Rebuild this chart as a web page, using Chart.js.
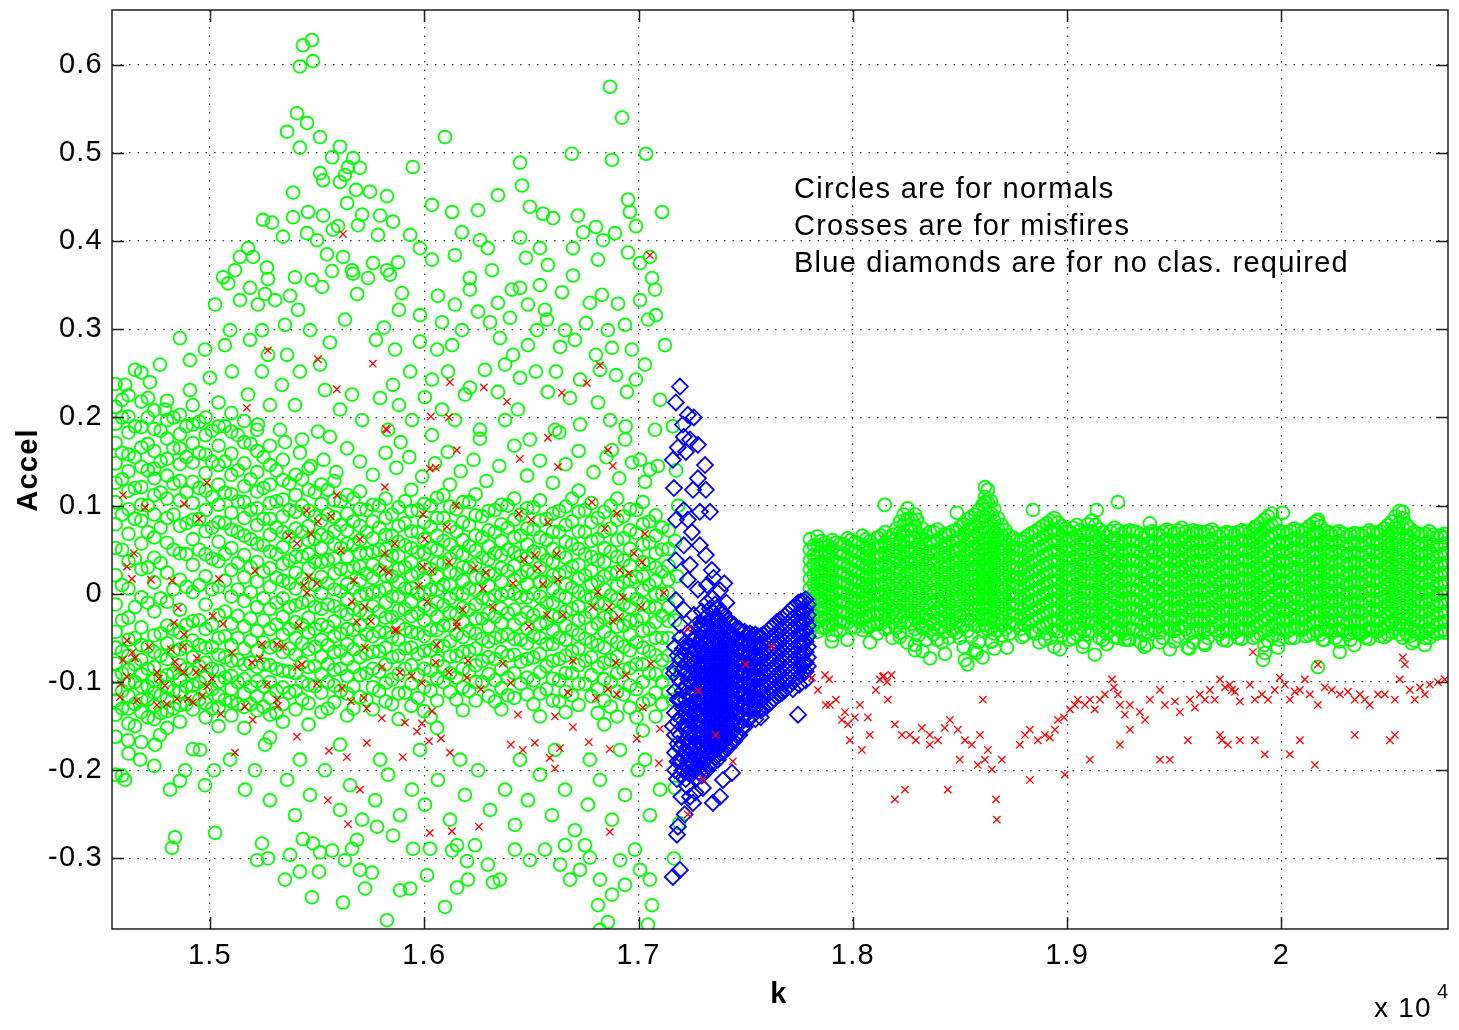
<!DOCTYPE html>
<html>
<head>
<meta charset="utf-8">
<script src="https://cdn.jsdelivr.net/npm/chart.js@4/dist/chart.umd.min.js"></script>
<style>
  html, body { margin: 0; padding: 0; background: #fff; }
  #wrap { width: 1459px; height: 1030px; }
</style>
</head>
<body>
<div id="wrap"><canvas id="accelChart" width="1459" height="1030"></canvas></div>
<script>
// --- Data ---------------------------------------------------------------------------------------
// Column tables: [k, accel, accel, ...]  (one k with several accel readings)
// Pair lists:    [k, accel]

const kTicks = [15000, 16000, 17000, 18000, 19000, 20000]
const accelTicks = [-0.3, -0.2, -0.1, 0, 0.1, 0.2, 0.3, 0.4, 0.5, 0.6]

// normals, dense part before the transition
const normalColsEarly = [
  [14560, .238,.212,.193,.171,.148,.126,.104,.079,.052,.021,-.012,-.043,-.061,-.079,-.094,-.108,-.121,-.137,-.162,-.205],
  [14620, .225,.201,.183,.158,.139,.117,.096,.068,.037,.006,-.027,-.052,-.07,-.086,-.101,-.116,-.13,-.147,-.181],
  [14680, .251,.218,.189,.166,.144,.121,.101,.083,.057,.028,-.004,-.038,-.058,-.075,-.091,-.105,-.12,-.134,-.168],
  [14740, .208,.187,.162,.142,.131,.112,.09,.064,.041,.013,-.02,-.047,-.066,-.083,-.098,-.112,-.127,-.142,-.195],
  [14800, .219,.197,.176,.153,.134,.108,.086,.058,.024,-.009,-.036,-.056,-.074,-.092,-.106,-.119,-.133,-.152],
  [14860, .203,.181,.165,.147,.128,.106,.077,.046,.016,-.018,-.044,-.063,-.081,-.097,-.111,-.126,-.145,-.212],
  [14920, .214,.192,.171,.149,.127,.103,.084,.062,.033,.002,-.031,-.053,-.072,-.089,-.104,-.117,-.131,-.176],
  [14980, .2,.18,.158,.137,.117,.095,.071,.045,.02,-.012,-.04,-.061,-.078,-.095,-.109,-.124,-.14],
  [15040, .217,.19,.168,.146,.124,.101,.081,.059,.037,.008,-.024,-.05,-.069,-.087,-.1,-.115,-.129,-.15],
  [15100, .205,.184,.159,.135,.113,.092,.073,.052,.027,-.003,-.034,-.058,-.076,-.093,-.108,-.122,-.138],
  [15160, .196,.172,.148,.122,.104,.086,.066,.044,.019,-.008,-.037,-.062,-.08,-.097,-.113,-.128,-.152],
  [15220, .186,.162,.138,.116,.097,.078,.057,.036,.014,-.015,-.042,-.064,-.083,-.099,-.116,-.132],
  [15280, .168,.146,.124,.103,.085,.067,.048,.029,.008,-.017,-.04,-.061,-.081,-.1,-.118,-.137,-.163],
  [15340, .152,.129,.107,.088,.07,.053,.034,.015,-.005,-.026,-.046,-.066,-.087,-.106,-.125,-.145],
  [15400, .135,.112,.093,.074,.058,.042,.024,.006,-.013,-.032,-.05,-.069,-.09,-.11,-.131],
  [15460, .142,.118,.094,.077,.061,.045,.029,.012,-.008,-.027,-.044,-.063,-.083,-.103,-.124,-.148],
  [15520, .124,.102,.083,.067,.052,.036,.019,.001,-.017,-.035,-.052,-.071,-.091,-.112,-.134],
  [15580, .128,.106,.087,.071,.056,.04,.023,.005,-.014,-.031,-.048,-.066,-.086,-.104,-.123],
  [15640, .112,.091,.072,.057,.042,.027,.011,-.006,-.023,-.04,-.057,-.074,-.093,-.113,-.138],
  [15700, .116,.096,.077,.061,.046,.031,.015,-.002,-.019,-.036,-.053,-.072,-.092,-.117],
  [15760, .101,.082,.063,.048,.033,.018,.002,-.014,-.031,-.048,-.066,-.085,-.106,-.131],
  [15820, .108,.086,.067,.051,.036,.021,.006,-.01,-.027,-.044,-.061,-.08,-.101,-.122],
  [15880, .098,.077,.059,.043,.028,.013,-.003,-.019,-.035,-.052,-.07,-.091,-.113,-.142],
  [15940, .118,.094,.071,.052,.036,.021,.006,-.009,-.025,-.043,-.061,-.081,-.102,-.127],
  [16000, .102,.081,.062,.046,.031,.016,.001,-.014,-.03,-.048,-.065,-.085,-.106,-.133],
  [16060, .109,.086,.066,.05,.035,.02,.005,-.01,-.026,-.041,-.059,-.076,-.096,-.121,-.152],
  [16120, .124,.099,.076,.056,.04,.025,.01,-.005,-.021,-.036,-.054,-.071,-.09,-.111],
  [16180, .104,.081,.061,.045,.03,.015,0,-.016,-.032,-.049,-.066,-.085,-.106,-.132],
  [16240, .113,.089,.066,.049,.034,.019,.004,-.012,-.028,-.045,-.062,-.081,-.1,-.121],
  [16300, .094,.072,.054,.039,.024,.009,-.006,-.022,-.037,-.054,-.072,-.091,-.116],
  [16360, .101,.079,.06,.044,.029,.014,-.001,-.017,-.033,-.048,-.066,-.085,-.107,-.131],
  [16420, .108,.084,.064,.047,.032,.016,0,-.018,-.035,-.051,-.069,-.09,-.118],
  [16480, .097,.074,.056,.041,.026,.011,-.004,-.021,-.039,-.056,-.074,-.095,-.114],
  [16540, .106,.083,.064,.046,.03,.014,-.003,-.019,-.034,-.05,-.068,-.089,-.113,-.139],
  [16600, .091,.07,.051,.036,.021,.006,-.01,-.025,-.041,-.057,-.076,-.096,-.121],
  [16660, .099,.078,.059,.041,.025,.011,-.004,-.02,-.036,-.052,-.07,-.09,-.111,-.134],
  [16720, .117,.093,.071,.051,.033,.017,.002,-.014,-.03,-.046,-.062,-.081,-.102,-.126],
  [16780, .103,.081,.06,.042,.026,.011,-.005,-.021,-.039,-.055,-.072,-.092,-.116],
  [16840, .093,.071,.052,.036,.02,.005,-.011,-.027,-.043,-.061,-.078,-.097,-.121,-.148],
  [16900, .108,.084,.061,.042,.025,.009,-.006,-.022,-.037,-.055,-.071,-.09,-.111,-.139],
  [16960, .096,.072,.051,.032,.016,.001,-.015,-.031,-.046,-.064,-.084,-.104,-.129],
  [17020, .104,.079,.056,.036,.02,.004,-.011,-.026,-.042,-.061,-.08,-.1,-.124,-.155],
  [17080, .089,.066,.046,.03,.015,0,-.016,-.032,-.05,-.07,-.091,-.112,-.139],
  [17140, .072,.051,.032,.016,.001,-.015,-.031,-.05,-.07,-.09,-.111]
]

// normals, dense part before the transition (readings between the columns above)
const normalColsEarlyFill = [
  [14590, .2,.16,.13,.09,.05,.01,-.03,-.065,-.09,-.11,-.13],
  [14650, .19,.155,.12,.085,.04,-.015,-.05,-.08,-.1,-.125,-.15],
  [14710, .2,.17,.14,.1,.07,.03,-.01,-.06,-.085,-.105,-.12,-.14],
  [14770, .185,.15,.115,.075,.035,-.005,-.045,-.07,-.095,-.115,-.135],
  [14830, .2,.165,.125,.09,.05,.005,-.04,-.065,-.09,-.11,-.13],
  [14890, .19,.155,.115,.08,.045,.008,-.035,-.06,-.085,-.105,-.125],
  [14950, .195,.16,.12,.085,.05,.01,-.03,-.058,-.082,-.1,-.12],
  [15010, .185,.15,.11,.075,.04,.005,-.035,-.06,-.085,-.108,-.13],
  [15070, .19,.15,.115,.08,.045,.015,-.02,-.048,-.072,-.095,-.12],
  [15130, .18,.14,.105,.07,.035,.005,-.025,-.05,-.075,-.1,-.125],
  [15190, .17,.13,.095,.062,.03,.002,-.028,-.053,-.078,-.105,-.125],
  [15250, .155,.12,.085,.055,.025,-.005,-.03,-.055,-.08,-.105,-.128],
  [15310, .14,.105,.075,.045,.018,-.01,-.035,-.058,-.085,-.11,-.135],
  [15370, .125,.095,.065,.038,.012,-.015,-.04,-.062,-.088,-.112],
  [15430, .13,.1,.07,.042,.017,-.01,-.035,-.056,-.078,-.1,-.12],
  [15490, .115,.088,.062,.036,.01,-.015,-.04,-.06,-.082,-.105],
  [15550, .118,.09,.064,.038,.012,-.012,-.037,-.058,-.08,-.1,-.13],
  [15610, .105,.078,.052,.028,.003,-.02,-.045,-.065,-.085,-.11],
  [15670, .108,.082,.056,.03,.007,-.017,-.041,-.063,-.083,-.105,-.13],
  [15730, .095,.07,.046,.023,0,-.022,-.046,-.068,-.09,-.12],
  [15790, .1,.075,.05,.027,.003,-.02,-.043,-.065,-.088,-.11],
  [15850, .09,.066,.043,.02,-.003,-.026,-.049,-.072,-.097,-.125],
  [15910, .105,.08,.055,.03,.006,-.017,-.04,-.062,-.085,-.112],
  [15970, .095,.07,.047,.024,.001,-.022,-.045,-.068,-.092,-.118],
  [16030, .1,.076,.052,.028,.005,-.018,-.041,-.064,-.087,-.11,-.14],
  [16090, .112,.086,.06,.035,.01,-.013,-.036,-.059,-.082,-.1],
  [16150, .096,.071,.047,.023,0,-.023,-.046,-.07,-.095,-.12],
  [16210, .104,.078,.054,.03,.006,-.018,-.042,-.065,-.088,-.11],
  [16270, .088,.064,.041,.018,-.005,-.028,-.051,-.076,-.1],
  [16330, .095,.07,.046,.022,-.002,-.026,-.05,-.074,-.098,-.122],
  [16390, .1,.075,.05,.026,.002,-.022,-.046,-.07,-.095,-.115],
  [16450, .09,.066,.043,.02,-.004,-.028,-.052,-.077,-.102],
  [16510, .098,.073,.048,.024,0,-.024,-.048,-.072,-.098,-.125],
  [16570, .085,.061,.038,.014,-.01,-.033,-.057,-.082,-.108],
  [16630, .094,.07,.046,.022,-.002,-.026,-.05,-.074,-.098,-.122],
  [16690, .108,.082,.056,.031,.007,-.017,-.041,-.065,-.09,-.115],
  [16750, .095,.07,.045,.021,-.003,-.027,-.051,-.076,-.102],
  [16810, .086,.062,.038,.014,-.01,-.034,-.058,-.083,-.108,-.135],
  [16870, .1,.074,.048,.023,-.002,-.026,-.05,-.075,-.1,-.128],
  [16930, .088,.063,.038,.013,-.012,-.036,-.06,-.086,-.114],
  [16990, .095,.069,.044,.019,-.006,-.03,-.055,-.08,-.108,-.14],
  [17050, .082,.058,.034,.01,-.015,-.04,-.065,-.09,-.12],
  [17110, .075,.05,.025,0,-.025,-.05,-.075,-.1,-.125]
]

// normals, sparse cloud above the dense part
const normalsHigh = [
  [15420,.598],[15434,.622],[15476,.628],[15481,.604],[15406,.545],[15453,.534],[15360,.524],[15420,.506],
  [15514,.518],[15570,.495],[15607,.507],[15668,.494],[15700,.483],[15645,.484],[15514,.477],[15528,.469],
  [15607,.467],[15388,.455],[15640,.443],[15747,.456],[15826,.451],[15682,.458],[15630,.475],
  [15248,.424],[15290,.421],[15458,.433],[15388,.427],[15528,.429],[15598,.417],[15710,.43],[15794,.429],
  [15691,.418],[15453,.409],[15500,.401],[15574,.413],[15341,.405],[15784,.407],[15854,.422],
  [15178,.392],[15140,.382],[15201,.382],[15546,.385],[15621,.382],[15761,.375],[15826,.367],[15061,.359],
  [15085,.352],[15266,.37],[15271,.357],[15397,.359],[15476,.356],[15523,.348],[15570,.366],[15668,.363],
  [15257,.34],[15374,.338],[15687,.34],
  [16097,.518],[16867,.575],[16923,.54],[16689,.499],[16876,.492],[17035,.499],[16447,.489],[15947,.484],
  [16456,.463],[16493,.439],[16344,.452],[16251,.435],[16130,.433],[16036,.441],[16176,.41],[16260,.401],
  [16297,.392],[16447,.404],[16554,.431],[16601,.426],[16717,.429],[16741,.41],[16801,.416],[16834,.401],
  [16890,.409],[16951,.447],[16960,.433],[16988,.417],[16951,.387],[17007,.375],[17110,.433],[17063,.358],
  [17081,.316],[17053,.382],[16811,.379],[16694,.392],[16540,.392],[16577,.373],[16475,.381],[16409,.345],
  [16316,.367],[16213,.358],[16143,.384],[16036,.379],[15980,.392],[15934,.407],[15878,.376],[15840,.362],
  [15896,.341],[15738,.358],[15663,.367],[16064,.338],[16143,.328],[16213,.345],[16251,.32],[16344,.33],
  [16447,.347],[16484,.328],[16563,.322],[16540,.35],[16643,.342],[16694,.361],[16773,.33],[16829,.339],
  [16904,.329],[16937,.305],[16857,.299],[16755,.307],[16657,.299],[16573,.311],[16400,.313],[16307,.308],
  [16176,.299],[16083,.308],[15980,.316],[15882,.322],[15812,.302],[15775,.288],[15864,.277],[15980,.286],
  [16060,.277],[16130,.282],[16353,.29],[16414,.271],[16484,.282],[16526,.299],[16634,.28],[16703,.288],
  [16801,.271],[16876,.279],[16969,.277],[17030,.26],[16988,.243],[16895,.248],[16820,.254],[16727,.243],
  [16615,.252],[16521,.252],[16447,.245],[16377,.26],[16283,.254],[16213,.234],[16111,.252],[16036,.243],
  [15934,.252],[15854,.237],[15794,.222],[15882,.214],[16003,.223],[16083,.209],[16190,.226],[16344,.229],
  [16437,.209],[16577,.229],[16680,.222],[16811,.217],[16946,.229],[16867,.197],[16727,.192],[16610,.186],
  [16493,.175],[16377,.197],[16260,.186],[16143,.197],[16036,.18],[15943,.197],[15831,.186],[15710,.197],
  [15663,.226],[15607,.209],[15537,.231],[15514,.26],[15560,.285],[15630,.311],[15467,.299],[15411,.322],
  [15350,.305],[15304,.333],[15243,.299],[15271,.271],[15360,.271],[15420,.252],[15336,.237],[15243,.252],
  [15187,.288],[15140,.333],[15224,.328],[15117,.367],[15187,.347],[15024,.328],[15094,.299],[15070,.282],
  [14977,.277],[14860,.29],[14907,.265],[14767,.26],[14720,.24],[14650,.254],[14604,.237],[14590,.22],
  [14711,.222],[14790,.209],[14907,.231],[15000,.245],[15103,.252],[15178,.226],[15280,.214],[15397,.214],
  [15504,.184],[15430,.175],[15327,.186],[15224,.192],
  [17007,.333],[17077,.345],[17044,.311],[17123,.282],[16876,.163],[16937,.175],[17007,.152],[17077,.186],
  [17100,.22],[17053,.141],
  [15420,.16],[15470,.145],[15530,.152],[15590,.138],[15640,.165],[15700,.15],[15760,.135],[15820,.16],
  [15870,.143],[15930,.155],[15990,.133],[16050,.148],[16110,.161],[16170,.139],[16230,.152],[16290,.128],
  [16350,.145],[16420,.168],[16480,.134],[16540,.151],[16600,.126],[16660,.147],[16720,.162],[16790,.138],
  [16850,.155],[16910,.131],[16970,.149],[17030,.127],[17090,.145],[15560,.178],[15890,.172],[16260,.176],
  [16630,.183],[16940,.19],[15350,.172]
]

// normals, sparse cloud below the dense part
const normalsLow = [
  [14837,-.276],[14823,-.288],[15024,-.271],[15243,-.283],[15220,-.302],[15271,-.3],[15434,-.278],[15420,-.315],
  [15509,-.315],[15476,-.344],[15621,-.35],[15724,-.334],[15756,-.316],[15826,-.37],[15934,-.334],[15948,-.289],
  [16013,-.319],[16027,-.289],[16097,-.355],[16153,-.333],[16204,-.324],[16200,-.303],[16297,-.307],[16321,-.327],
  [16130,-.291],[16153,-.285],[15514,-.293],[15570,-.291],[15663,-.289],[15686,-.279],[15854,-.274],[15481,-.283],
  [15780,-.264],
  [14604,-.211],[14590,-.206],[14674,-.188],[14744,-.171],[14814,-.222],[14884,-.2],[14977,-.217],[15019,-.2],
  [15094,-.188],[15164,-.222],[15210,-.2],[15280,-.234],[15360,-.211],[15397,-.251],[15467,-.228],[15537,-.2],
  [15607,-.245],[15654,-.217],[15710,-.256],[15771,-.234],[15831,-.205],[15887,-.251],[15943,-.222],[16003,-.239],
  [16064,-.211],[16120,-.256],[16190,-.228],[16251,-.2],[16307,-.245],[16377,-.222],[16423,-.262],[16484,-.234],
  [16540,-.205],[16596,-.251],[16657,-.222],[16703,-.268],[16764,-.239],[16820,-.211],[16876,-.256],[16937,-.228],
  [16997,-.2],[17053,-.251],[17100,-.222],[16447,-.188],[16610,-.177],[16773,-.188],[16914,-.177],[17030,-.188],
  [16167,-.188],[15980,-.177],[15794,-.188],[15607,-.171],[15420,-.188],[15257,-.171],[14954,-.177],[14767,-.16],
  [14618,-.166],
  [16563,-.29],[16634,-.307],[16680,-.324],[16727,-.313],[16820,-.324],[16876,-.341],[16811,-.353],[16820,-.381],
  [16857,-.372],[16937,-.33],[17007,-.313],[17053,-.324],[17063,-.353],[17044,-.375],[16983,-.29],[16914,-.302],
  [16750,-.285],[16493,-.302],[16423,-.29],[16353,-.324],[16237,-.285],[15887,-.336],[15700,-.313],[15630,-.302],
  [15374,-.296],[15350,-.324],[16773,-.299],[16657,-.285],
  [17170,.06],[17180,.02],[17170,-.03],[17190,-.08],[17160,-.12],[17180,-.17],[17170,-.22],[17190,-.26],
  [17165,-.3],[17175,.14],[17185,.1],[17160,.19],[17200,-.14]
]

// normals, the steady band after the transition
const normalColsLate = [
  [17800, .062,.05,.038,.028,.017,.006,-.006,-.018,-.03,-.042],
  [17835, .065,.055,.043,.032,.021,.011,.001,-.009,-.02,-.031,-.043],
  [17870, .058,.047,.036,.026,.015,.004,-.007,-.017,-.028,-.038],
  [17905, .061,.052,.04,.029,.019,.009,-.002,-.013,-.024,-.035,-.047],
  [17940, .057,.046,.035,.024,.013,.002,-.009,-.02,-.031,-.042],
  [17975, .063,.053,.042,.031,.02,.01,-.001,-.011,-.022,-.033,-.052],
  [18010, .059,.048,.037,.026,.016,.005,-.005,-.016,-.027,-.038],
  [18045, .066,.055,.044,.033,.022,.012,.002,-.009,-.019,-.03,-.041],
  [18080, .06,.049,.038,.028,.017,.006,-.004,-.014,-.025,-.036,-.055],
  [18115, .064,.053,.041,.03,.02,.009,-.002,-.012,-.023,-.034,-.045],
  [18150, .07,.058,.046,.035,.024,.013,.003,-.008,-.018,-.029,-.04],
  [18185, .067,.056,.045,.034,.023,.012,.001,-.01,-.021,-.032,-.05],
  [18220, .082,.07,.058,.046,.034,.023,.012,.001,-.01,-.021,-.033,-.044],
  [18255, .097,.085,.072,.06,.048,.036,.025,.014,.003,-.008,-.019,-.031],
  [18290, .09,.077,.064,.052,.04,.029,.017,.006,-.005,-.016,-.028,-.04,-.058],
  [18325, .074,.062,.05,.039,.028,.017,.006,-.005,-.016,-.027,-.039,-.065],
  [18360, .07,.059,.048,.037,.026,.015,.004,-.007,-.018,-.03,-.042,-.073],
  [18395, .073,.061,.05,.039,.028,.017,.005,-.006,-.017,-.028,-.04,-.052],
  [18430, .068,.057,.046,.035,.024,.013,.002,-.009,-.02,-.031,-.043,-.068],
  [18465, .071,.06,.049,.038,.027,.016,.005,-.006,-.017,-.029,-.041],
  [18500, .076,.064,.052,.041,.03,.019,.008,-.003,-.014,-.025,-.037,-.05],
  [18535, .084,.072,.06,.048,.037,.026,.015,.004,-.007,-.018,-.03,-.042,-.08],
  [18570, .09,.078,.066,.054,.042,.031,.02,.009,-.002,-.013,-.024,-.036,-.064],
  [18605, .101,.088,.075,.062,.05,.038,.027,.016,.005,-.006,-.017,-.029,-.041,-.072],
  [18630, .118,.104,.09,.076,.063,.051,.039,.028,.017,.006,-.005,-.016,-.028,-.04],
  [18660, .096,.083,.07,.058,.046,.035,.024,.013,.002,-.009,-.02,-.032,-.045,-.062],
  [18695, .078,.066,.054,.043,.032,.021,.01,-.001,-.012,-.023,-.035,-.047],
  [18730, .066,.055,.044,.033,.022,.011,0,-.011,-.022,-.033,-.045],
  [18765, .061,.05,.04,.029,.018,.008,-.003,-.014,-.025,-.036],
  [18800, .063,.052,.041,.031,.02,.009,-.002,-.013,-.024,-.035,-.047],
  [18835, .069,.058,.047,.036,.025,.014,.003,-.008,-.019,-.03,-.042],
  [18870, .074,.062,.051,.04,.029,.018,.007,-.004,-.015,-.026,-.038,-.055],
  [18905, .08,.068,.056,.045,.034,.023,.012,.001,-.01,-.021,-.033,-.045],
  [18940, .086,.073,.061,.049,.038,.027,.016,.005,-.006,-.017,-.029,-.041,-.06],
  [18975, .077,.065,.054,.043,.032,.021,.01,-.001,-.012,-.023,-.035,-.047],
  [19010, .071,.06,.049,.038,.027,.016,.005,-.006,-.017,-.028,-.04,-.052],
  [19045, .078,.066,.055,.044,.033,.022,.011,0,-.011,-.022,-.034,-.046],
  [19080, .069,.058,.047,.036,.025,.014,.003,-.008,-.019,-.03,-.042,-.055],
  [19115, .083,.071,.059,.048,.037,.026,.015,.004,-.007,-.018,-.03,-.042],
  [19150, .073,.062,.051,.04,.029,.018,.007,-.004,-.015,-.026,-.038,-.05],
  [19185, .066,.055,.044,.033,.022,.011,0,-.011,-.022,-.033,-.045,-.057],
  [19220, .075,.063,.052,.041,.03,.019,.008,-.003,-.014,-.025,-.037,-.049],
  [19255, .068,.057,.046,.035,.024,.013,.002,-.009,-.02,-.031,-.043],
  [19290, .072,.061,.05,.039,.028,.017,.006,-.005,-.016,-.027,-.039,-.052],
  [19325, .07,.059,.048,.037,.026,.015,.004,-.007,-.018,-.029,-.041],
  [19360, .064,.053,.042,.031,.02,.009,-.002,-.013,-.024,-.035,-.047,-.06],
  [19395, .071,.06,.049,.038,.027,.016,.005,-.006,-.017,-.028,-.04],
  [19430, .067,.056,.045,.034,.023,.012,.001,-.01,-.021,-.032,-.044,-.055],
  [19465, .073,.062,.051,.04,.029,.018,.007,-.004,-.015,-.026,-.038],
  [19500, .069,.058,.047,.036,.025,.014,.003,-.008,-.019,-.03,-.042,-.054],
  [19535, .075,.063,.052,.041,.03,.019,.008,-.003,-.014,-.025,-.037],
  [19570, .066,.055,.044,.033,.022,.011,0,-.011,-.022,-.033,-.045,-.062],
  [19605, .071,.06,.049,.038,.027,.016,.005,-.006,-.017,-.028,-.04],
  [19640, .068,.057,.046,.035,.024,.013,.002,-.009,-.02,-.031,-.043,-.056],
  [19675, .073,.062,.051,.04,.029,.018,.007,-.004,-.015,-.026,-.038],
  [19710, .065,.054,.043,.032,.021,.01,-.001,-.012,-.023,-.034,-.046],
  [19745, .07,.059,.048,.037,.026,.015,.004,-.007,-.018,-.029,-.041,-.053],
  [19780, .067,.056,.045,.034,.023,.012,.001,-.01,-.021,-.032,-.044],
  [19815, .072,.061,.05,.039,.028,.017,.006,-.005,-.016,-.027,-.039,-.051],
  [19850, .069,.058,.047,.036,.025,.014,.003,-.008,-.019,-.03,-.042],
  [19885, .076,.064,.053,.042,.031,.02,.009,-.002,-.013,-.024,-.036,-.048],
  [19920, .084,.072,.06,.048,.037,.026,.015,.004,-.007,-.018,-.03,-.042,-.058],
  [19955, .091,.078,.066,.054,.042,.031,.02,.009,-.002,-.013,-.024,-.036,-.048],
  [19990, .071,.06,.049,.038,.027,.016,.005,-.006,-.017,-.028,-.04,-.052],
  [20025, .068,.057,.046,.035,.024,.013,.002,-.009,-.02,-.031,-.043],
  [20060, .074,.063,.052,.041,.03,.019,.008,-.003,-.014,-.025,-.037,-.05],
  [20095, .07,.059,.048,.037,.026,.015,.004,-.007,-.018,-.029,-.041],
  [20130, .077,.065,.054,.043,.032,.021,.01,-.001,-.012,-.023,-.035,-.047],
  [20165, .082,.07,.058,.047,.036,.025,.014,.003,-.008,-.019,-.031,-.043],
  [20200, .072,.061,.05,.039,.028,.017,.006,-.005,-.016,-.027,-.039,-.052],
  [20235, .067,.056,.045,.034,.023,.012,.001,-.01,-.021,-.032,-.044],
  [20270, .071,.06,.049,.038,.027,.016,.005,-.006,-.017,-.028,-.04,-.054],
  [20305, .065,.054,.043,.032,.021,.01,-.001,-.012,-.023,-.034,-.046],
  [20340, .069,.058,.047,.036,.025,.014,.003,-.008,-.019,-.03,-.042,-.058],
  [20375, .066,.055,.044,.033,.022,.011,0,-.011,-.022,-.033,-.045],
  [20410, .072,.061,.05,.039,.028,.017,.006,-.005,-.016,-.027,-.039,-.051],
  [20445, .068,.057,.046,.035,.024,.013,.002,-.009,-.02,-.031,-.043],
  [20480, .074,.063,.052,.041,.03,.019,.008,-.003,-.014,-.025,-.037,-.049],
  [20515, .082,.07,.058,.047,.036,.025,.014,.003,-.008,-.019,-.031,-.043],
  [20550, .094,.081,.068,.056,.044,.033,.022,.011,0,-.011,-.022,-.034,-.046],
  [20585, .078,.066,.055,.044,.033,.022,.011,0,-.011,-.022,-.034,-.046],
  [20620, .07,.059,.048,.037,.026,.015,.004,-.007,-.018,-.029,-.041,-.053],
  [20655, .066,.055,.044,.033,.022,.011,0,-.011,-.022,-.033,-.045],
  [20690, .071,.06,.049,.038,.027,.016,.005,-.006,-.017,-.028,-.04,-.05],
  [20725, .064,.053,.042,.031,.02,.009,-.002,-.013,-.024,-.035,-.045],
  [20760, .068,.057,.046,.035,.024,.013,.002,-.009,-.02,-.031,-.041]
]

// normals, the steady band (readings between the columns above)
const normalColsLateFill = [
  [17817, .055,.044,.033,.022,.011,0,-.012,-.024,-.036],
  [17852, .06,.048,.037,.026,.016,.005,-.005,-.016,-.027,-.038],
  [17887, .054,.043,.032,.021,.01,-.001,-.012,-.023,-.034],
  [17922, .058,.047,.036,.025,.014,.003,-.008,-.019,-.03,-.041],
  [17957, .056,.045,.034,.023,.012,.001,-.01,-.021,-.032],
  [17992, .061,.05,.039,.028,.017,.006,-.005,-.016,-.027,-.038],
  [18027, .057,.046,.035,.024,.013,.002,-.009,-.02,-.031],
  [18062, .062,.051,.04,.029,.018,.007,-.004,-.015,-.026,-.037],
  [18097, .055,.044,.033,.022,.011,0,-.011,-.022,-.033],
  [18132, .066,.054,.043,.032,.021,.01,-.001,-.012,-.023,-.034],
  [18167, .063,.052,.041,.03,.019,.008,-.003,-.014,-.025,-.038],
  [18202, .074,.062,.05,.039,.028,.017,.006,-.005,-.016,-.027,-.039],
  [18237, .09,.078,.066,.054,.042,.031,.02,.009,-.002,-.013,-.025],
  [18272, .085,.072,.059,.047,.035,.023,.012,.001,-.01,-.022,-.034],
  [18307, .068,.056,.045,.034,.023,.012,.001,-.01,-.021,-.033,-.047],
  [18342, .066,.055,.043,.032,.021,.01,-.001,-.012,-.024,-.036,-.052],
  [18377, .07,.058,.046,.034,.023,.012,.001,-.01,-.022,-.034,-.046],
  [18412, .064,.052,.041,.03,.019,.008,-.003,-.015,-.026,-.038],
  [18447, .067,.055,.044,.033,.022,.011,0,-.011,-.023,-.035,-.05],
  [18482, .072,.06,.048,.036,.025,.014,.003,-.008,-.02,-.032,-.044],
  [18517, .079,.067,.055,.043,.032,.021,.01,-.001,-.012,-.024,-.036,-.06],
  [18552, .087,.074,.062,.05,.038,.027,.016,.005,-.006,-.018,-.03,-.048],
  [18587, .095,.082,.069,.057,.045,.033,.022,.011,0,-.012,-.024,-.036,-.055],
  [18617, .11,.096,.083,.07,.057,.045,.033,.022,.011,0,-.011,-.023,-.035],
  [18645, .105,.091,.078,.065,.053,.041,.03,.019,.008,-.003,-.014,-.026,-.038,-.054],
  [18677, .086,.074,.062,.05,.038,.027,.016,.005,-.006,-.017,-.029,-.041],
  [18712, .072,.06,.049,.038,.027,.016,.005,-.006,-.017,-.028,-.04],
  [18747, .064,.053,.042,.031,.02,.01,-.001,-.012,-.023,-.034],
  [18782, .06,.049,.038,.027,.016,.005,-.006,-.017,-.028,-.04],
  [18817, .066,.055,.044,.033,.022,.011,0,-.011,-.022,-.033],
  [18852, .071,.06,.049,.038,.027,.016,.005,-.006,-.017,-.028,-.045],
  [18887, .077,.065,.054,.043,.032,.021,.01,-.001,-.012,-.023,-.036],
  [18922, .083,.071,.059,.047,.036,.025,.014,.003,-.008,-.019,-.031,-.05],
  [18957, .081,.069,.058,.047,.036,.025,.014,.003,-.008,-.019,-.031,-.043],
  [18992, .074,.062,.051,.04,.029,.018,.007,-.004,-.015,-.026,-.038],
  [19027, .075,.063,.052,.041,.03,.019,.008,-.003,-.014,-.025,-.037,-.05],
  [19062, .072,.061,.05,.039,.028,.017,.006,-.005,-.016,-.027,-.039],
  [19097, .079,.067,.056,.045,.034,.023,.012,.001,-.01,-.021,-.033,-.046],
  [19132, .078,.066,.055,.044,.033,.022,.011,0,-.011,-.022,-.034],
  [19167, .07,.059,.048,.037,.026,.015,.004,-.007,-.018,-.029,-.041,-.052],
  [19202, .071,.059,.048,.037,.026,.015,.004,-.007,-.018,-.029,-.041],
  [19237, .072,.061,.05,.039,.028,.017,.006,-.005,-.016,-.027,-.039,-.05],
  [19272, .07,.059,.048,.037,.026,.015,.004,-.007,-.018,-.029,-.045],
  [19307, .071,.06,.049,.038,.027,.016,.005,-.006,-.017,-.028,-.04],
  [19342, .067,.056,.045,.034,.023,.012,.001,-.01,-.021,-.032,-.043,-.055],
  [19377, .068,.057,.046,.035,.024,.013,.002,-.009,-.02,-.031,-.043],
  [19412, .069,.058,.047,.036,.025,.014,.003,-.008,-.019,-.03,-.04],
  [19447, .07,.059,.048,.037,.026,.015,.004,-.007,-.018,-.029,-.041,-.05],
  [19482, .071,.06,.049,.038,.027,.016,.005,-.006,-.017,-.028,-.039],
  [19517, .072,.061,.05,.039,.028,.017,.006,-.005,-.016,-.027,-.039,-.048],
  [19552, .07,.059,.048,.037,.026,.015,.004,-.007,-.018,-.029,-.04],
  [19587, .068,.057,.046,.035,.024,.013,.002,-.009,-.02,-.031,-.043,-.055],
  [19622, .07,.059,.048,.037,.026,.015,.004,-.007,-.018,-.029,-.04],
  [19657, .071,.06,.049,.038,.027,.016,.005,-.006,-.017,-.028,-.04,-.05],
  [19692, .069,.058,.047,.036,.025,.014,.003,-.008,-.019,-.03,-.041],
  [19727, .068,.057,.046,.035,.024,.013,.002,-.009,-.02,-.031,-.043,-.052],
  [19762, .069,.058,.047,.036,.025,.014,.003,-.008,-.019,-.03,-.04],
  [19797, .07,.059,.048,.037,.026,.015,.004,-.007,-.018,-.029,-.041,-.05],
  [19832, .071,.06,.049,.038,.027,.016,.005,-.006,-.017,-.028,-.04],
  [19867, .073,.062,.051,.04,.029,.018,.007,-.004,-.015,-.026,-.038,-.05],
  [19902, .08,.068,.057,.046,.035,.024,.013,.002,-.009,-.02,-.032,-.046],
  [19937, .088,.076,.064,.052,.04,.029,.018,.007,-.004,-.015,-.027,-.04,-.053],
  [19972, .08,.068,.056,.045,.034,.023,.012,.001,-.01,-.021,-.033,-.046],
  [20007, .07,.059,.048,.037,.026,.015,.004,-.007,-.018,-.029,-.04],
  [20042, .071,.06,.049,.038,.027,.016,.005,-.006,-.017,-.028,-.04,-.05],
  [20077, .072,.061,.05,.039,.028,.017,.006,-.005,-.016,-.027,-.039],
  [20112, .073,.062,.051,.04,.029,.018,.007,-.004,-.015,-.026,-.038,-.048],
  [20147, .08,.068,.057,.046,.035,.024,.013,.002,-.009,-.02,-.032,-.045],
  [20182, .077,.066,.055,.044,.033,.022,.011,0,-.011,-.022,-.034,-.046],
  [20217, .07,.059,.048,.037,.026,.015,.004,-.007,-.018,-.029,-.041],
  [20252, .069,.058,.047,.036,.025,.014,.003,-.008,-.019,-.03,-.042,-.05],
  [20287, .068,.057,.046,.035,.024,.013,.002,-.009,-.02,-.031,-.042],
  [20322, .067,.056,.045,.034,.023,.012,.001,-.01,-.021,-.032,-.044,-.052],
  [20357, .068,.057,.046,.035,.024,.013,.002,-.009,-.02,-.031,-.043],
  [20392, .069,.058,.047,.036,.025,.014,.003,-.008,-.019,-.03,-.042,-.05],
  [20427, .07,.059,.048,.037,.026,.015,.004,-.007,-.018,-.029,-.041],
  [20462, .071,.06,.049,.038,.027,.016,.005,-.006,-.017,-.028,-.04,-.048],
  [20497, .078,.066,.055,.044,.033,.022,.011,0,-.011,-.022,-.034,-.046],
  [20532, .088,.075,.063,.051,.04,.029,.018,.007,-.004,-.015,-.027,-.039],
  [20567, .086,.074,.062,.05,.039,.028,.017,.006,-.005,-.016,-.028,-.04,-.05],
  [20602, .074,.063,.052,.041,.03,.019,.008,-.003,-.014,-.025,-.037,-.048],
  [20637, .068,.057,.046,.035,.024,.013,.002,-.009,-.02,-.031,-.043],
  [20672, .068,.057,.046,.035,.024,.013,.002,-.009,-.02,-.031,-.042,-.05],
  [20707, .067,.056,.045,.034,.023,.012,.001,-.01,-.021,-.032,-.043],
  [20742, .066,.055,.044,.033,.022,.011,0,-.011,-.022,-.033,-.043]
]

// normals, stray readings around the steady band
const normalsBandEdge = [
  [18616,.121],[18616,.104],[18149,.101],[18485,.092],[18840,.095],[19138,.095],[19237,.104],[18299,.084],
  [17902,-.054],[18079,-.037],[18220,-.049],[18252,-.055],[18290,-.064],[18322,-.037],[18415,-.055],[18523,-.075],
  [18578,-.067],[18649,-.054],[18719,-.061],[18789,-.049],[18896,-.052],[18966,-.063],[19073,-.06],[19129,-.069],
  [19269,-.052],[19386,.08],[19587,.072],[19876,.076],[20006,.092],[20170,.084],[20566,.093],[20762,.064],
  [19283,-.052],[19372,-.058],[19479,-.063],[19563,-.061],[19643,-.058],[19923,-.067],[19983,-.061],[20193,-.052],
  [20272,-.066],[20366,-.044],[20608,-.056],[20669,-.058],[20762,-.044],[20170,-.083],[19914,-.075]
]

// no classification required: compact cluster
const noClassCols = [
  [17170, -.06,-.085,-.11,-.135,-.16,-.18,-.2],
  [17195, -.05,-.075,-.1,-.12,-.14,-.16,-.175,-.19,-.205],
  [17220, -.055,-.07,-.09,-.105,-.12,-.135,-.15,-.165,-.18,-.195,-.21],
  [17245, -.045,-.06,-.075,-.09,-.102,-.115,-.128,-.14,-.153,-.166,-.179,-.192,-.205],
  [17270, -.035,-.05,-.063,-.076,-.088,-.1,-.112,-.124,-.136,-.148,-.16,-.172,-.184,-.196,-.208],
  [17295, -.02,-.035,-.05,-.062,-.074,-.086,-.098,-.11,-.122,-.134,-.146,-.158,-.17,-.182,-.194,-.206],
  [17320, -.01,-.025,-.04,-.053,-.066,-.078,-.09,-.102,-.114,-.126,-.138,-.15,-.162,-.174,-.186,-.2],
  [17345, -.005,-.02,-.034,-.047,-.06,-.072,-.084,-.096,-.108,-.12,-.132,-.144,-.156,-.168,-.18,-.193],
  [17370, -.015,-.028,-.041,-.054,-.066,-.078,-.09,-.102,-.114,-.126,-.138,-.15,-.162,-.175,-.188],
  [17395, -.022,-.035,-.048,-.06,-.072,-.084,-.096,-.108,-.12,-.132,-.144,-.156,-.168,-.18],
  [17420, -.03,-.042,-.054,-.066,-.078,-.09,-.102,-.114,-.126,-.138,-.15,-.162,-.174],
  [17445, -.035,-.047,-.059,-.071,-.083,-.095,-.107,-.119,-.131,-.143,-.155,-.167],
  [17470, -.04,-.052,-.064,-.076,-.088,-.1,-.112,-.124,-.136,-.148,-.16],
  [17495, -.043,-.055,-.067,-.079,-.091,-.103,-.115,-.127,-.139,-.151],
  [17520, -.045,-.057,-.069,-.081,-.093,-.105,-.117,-.129,-.141],
  [17545, -.046,-.058,-.07,-.082,-.094,-.106,-.118,-.13,-.142],
  [17570, -.048,-.06,-.072,-.084,-.096,-.108,-.12,-.132],
  [17595, -.044,-.056,-.068,-.08,-.092,-.104,-.116,-.128],
  [17620, -.038,-.05,-.062,-.074,-.086,-.098,-.11,-.122],
  [17645, -.032,-.044,-.056,-.068,-.08,-.092,-.104,-.116],
  [17670, -.028,-.04,-.052,-.064,-.076,-.088,-.1,-.112],
  [17695, -.022,-.034,-.046,-.058,-.07,-.082,-.094,-.106],
  [17720, -.016,-.028,-.04,-.052,-.064,-.076,-.088,-.1],
  [17745, -.01,-.022,-.034,-.046,-.058,-.07,-.082,-.094],
  [17770, -.008,-.02,-.032,-.044,-.056,-.068,-.08,-.09],
  [17790, -.012,-.024,-.036,-.048,-.06,-.072,-.082]
]

// no classification required: readings between the cluster columns
const noClassColsFill = [
  [17182, -.07,-.095,-.12,-.145,-.17,-.19],
  [17207, -.062,-.085,-.11,-.13,-.15,-.17,-.185,-.2],
  [17232, -.06,-.08,-.097,-.113,-.128,-.143,-.158,-.173,-.188,-.203],
  [17257, -.052,-.068,-.083,-.096,-.109,-.122,-.134,-.147,-.16,-.173,-.186,-.199],
  [17282, -.042,-.057,-.07,-.082,-.094,-.106,-.118,-.13,-.142,-.154,-.166,-.178,-.19,-.202],
  [17307, -.028,-.042,-.056,-.068,-.08,-.092,-.104,-.116,-.128,-.14,-.152,-.164,-.176,-.188,-.2],
  [17332, -.017,-.032,-.046,-.06,-.072,-.084,-.096,-.108,-.12,-.132,-.144,-.156,-.168,-.18,-.193],
  [17357, -.012,-.027,-.04,-.053,-.066,-.078,-.09,-.102,-.114,-.126,-.138,-.15,-.162,-.174,-.186],
  [17382, -.02,-.034,-.047,-.06,-.072,-.084,-.096,-.108,-.12,-.132,-.144,-.156,-.168,-.18],
  [17407, -.028,-.041,-.054,-.066,-.078,-.09,-.102,-.114,-.126,-.138,-.15,-.162,-.174],
  [17432, -.034,-.047,-.06,-.072,-.084,-.096,-.108,-.12,-.132,-.144,-.156,-.168],
  [17457, -.04,-.052,-.064,-.076,-.088,-.1,-.112,-.124,-.136,-.148,-.16],
  [17482, -.044,-.056,-.068,-.08,-.092,-.104,-.116,-.128,-.14,-.152],
  [17507, -.046,-.058,-.07,-.082,-.094,-.106,-.118,-.13,-.142],
  [17532, -.047,-.059,-.071,-.083,-.095,-.107,-.119,-.131],
  [17557, -.048,-.06,-.072,-.084,-.096,-.108,-.12,-.132],
  [17582, -.046,-.058,-.07,-.082,-.094,-.106,-.118,-.13],
  [17607, -.041,-.053,-.065,-.077,-.089,-.101,-.113,-.125],
  [17632, -.035,-.047,-.059,-.071,-.083,-.095,-.107,-.119],
  [17657, -.03,-.042,-.054,-.066,-.078,-.09,-.102,-.114],
  [17682, -.025,-.037,-.049,-.061,-.073,-.085,-.097,-.109],
  [17707, -.019,-.031,-.043,-.055,-.067,-.079,-.091,-.103],
  [17732, -.013,-.025,-.037,-.049,-.061,-.073,-.085,-.097],
  [17757, -.009,-.021,-.033,-.045,-.057,-.069,-.081,-.092],
  [17780, -.006,-.018,-.03,-.042,-.054,-.066,-.078,-.088]
]

// no classification required: scattered readings around the cluster
const noClassScatter = [
  [17193,.235],[17174,.217],[17230,.203],[17207,.192],[17258,.2],[17211,.178],[17183,.166],[17240,.175],
  [17277,.169],[17221,.161],[17310,.146],[17277,.131],[17254,.118],[17314,.118],[17211,.095],[17174,.084],
  [17230,.084],[17286,.093],[17333,.093],[17249,.07],[17286,.055],[17314,.044],[17211,.055],[17174,.038],
  [17240,.033],[17342,.027],[17230,.016],[17277,.005],[17174,-.007],[17211,-.018],[17258,-.024],[17193,-.035],
  [17305,-.035],[17249,-.052],[17160,.152],[17165,.12],
  [17179,-.21],[17226,-.218],[17240,-.23],[17254,-.237],[17184,-.264],[17179,-.273],[17160,-.321],[17347,-.237],
  [17380,-.23],[17394,-.211],[17436,-.203],[17193,-.313],[17200,-.23],[17215,-.25],[17265,-.225],[17300,-.22],
  [17165,-.09],[17185,-.12],[17160,-.15],
  [17320,.01],[17350,.018],[17380,.004],[17410,-.01],[17400,.012],
  [17690,-.1],[17720,-.108],[17750,-.103],[17780,-.098],[17630,-.108],[17744,-.137],[17540,-.125],[17570,-.14]
]

// misfires before the transition
const misfiresEarly = [
  [15270,.276],[15504,.266],[15760,.261],[15592,.232],[15172,.211],[15821,.187],[14986,.126],[15592,.112],
  [15816,.121],[14594,.112],[14697,.098],[14879,.102],[14949,.085],[15452,.094],[15504,.082],[15564,.088],
  [15368,.066],[15406,.057],[15471,.068],[15700,.062],[15611,.049],[15816,.046],[15863,.057],[14645,.046],
  [14613,.031],[14636,.017],[14725,.016],[14823,.015],[15042,.017],[15210,.026],[15462,.019],[15438,.01],
  [15499,.012],[15452,.001],[15672,.015],[15807,.028],[15835,.024],[14851,-.016],[14832,-.033],[15014,-.025],
  [15061,-.034],[15415,-.036],[15662,-.009],[15723,-.015],[15686,-.032],[15751,-.031],[15863,-.041],[14613,-.053],
  [14715,-.06],[14636,-.067],[14650,-.073],[14818,-.063],[14879,-.046],[14874,-.06],[15243,-.057],[15313,-.057],
  [15341,-.06],[15103,-.067],[15196,-.078],[15233,-.073],[15406,-.083],[15429,-.08],[15723,-.061],[14594,-.075],
  [14837,-.077],[14851,-.084],[14939,-.073],[14972,-.084],[14753,-.089],[14585,-.102],[14613,-.094],[14762,-.096],
  [14790,-.104],[14879,-.089],[14935,-.089],[14986,-.105],[15009,-.096],[15266,-.103],[15499,-.102],[15616,-.107],
  [15802,-.083],[14580,-.117],[14659,-.121],[14753,-.126],[14799,-.125],[14846,-.119],[14897,-.119],[14921,-.123],
  [14963,-.116],[15051,-.136],[15163,-.128],[15200,-.143],[15313,-.12],[15317,-.127],[15658,-.122],[15718,-.118],
  [15732,-.13],[15802,-.141],[15406,-.162],[15117,-.18],[15555,-.178],[15732,-.169],[15639,-.185],
  [16120,.24],[16278,.234],[16759,.239],[16642,.228],[16386,.218],[16031,.201],[16115,.2],[15826,.186],
  [16577,.177],[16152,.163],[16446,.153],[16857,.163],[16880,.145],[16624,.144],[16026,.142],[16054,.143],
  [16148,.1],[16782,.104],[16442,.091],[16498,.084],[16577,.081],[16899,.091],[16843,.074],[15994,.09],
  [16003,.062],[16106,.076],[17030,.068],[16619,.045],[16465,.039],[16516,.044],[16978,.046],[17016,.036],
  [16115,.036],[16232,.029],[16288,.024],[16530,.029],[15994,.031],[16036,.026],[16913,.027],[16955,.023],
  [16624,.016],[16414,.012],[15975,.009],[16554,.011],[16274,.006],[16810,.002],[16927,-.004],[17118,.001],
  [16012,-.009],[16320,-.015],[16180,-.018],[16572,-.024],[16647,-.024],[16787,-.015],[16862,-.015],[16908,-.026],
  [16152,-.032],[16152,-.037],[17011,-.015],[16880,-.031],[16488,-.037],[15872,-.041],[16059,-.058],[16054,-.078],
  [16204,-.076],[16367,-.079],[16694,-.076],[16894,-.078],[17058,-.079],[15886,-.089],[15942,-.093],[15989,-.101],
  [16115,-.089],[16199,-.095],[16264,-.108],[16404,-.101],[16670,-.112],[16801,-.118],[16857,-.108],[16899,-.114],
  [16941,-.092],[16036,-.133],[15910,-.146],[15989,-.147],[15966,-.156],[16022,-.167],[16078,-.164],[16437,-.137],
  [16610,-.139],[16694,-.151],[16992,-.164],[17020,-.129],[17100,-.153],[16120,-.18],[16404,-.171],[16460,-.177],
  [16516,-.169],[16633,-.175],[16586,-.186],[16610,-.198],[16768,-.168],[16866,-.176],[17095,-.192],[15900,-.185],
  [15621,.408],[17053,.384],[16820,.259],[15644,-.261],[16026,-.271],[16129,-.269],[16255,-.264],[16866,-.27],
  [15550,-.234],[15700,-.222],
  [17230,-.04],[17280,-.11],[17360,-.16],[17440,-.19],[17500,-.08],[17620,-.06],[17300,-.21],[17230,-.25]
]

// misfires after the transition
const misfiresLate = [
  [17809,-.095],[17837,-.109],[17893,-.126],[17921,-.12],[17963,-.134],[17977,-.148],[18009,-.14],[18033,-.126],
  [18070,-.14],[18107,-.109],[18126,-.097],[18145,-.093],[18163,-.12],[18196,-.148],[18229,-.16],[18266,-.16],
  [18294,-.166],[18322,-.152],[18359,-.16],[18397,-.166],[18429,-.152],[18453,-.143],[18490,-.154],[18523,-.166],
  [18555,-.171],[18593,-.16],[18607,-.12],[18630,-.177],[18649,-.199],[18668,-.233],[18672,-.256],[18695,-.188],
  [18616,-.188],[18583,-.194],[18499,-.188],[18443,-.222],[18359,-.171],[18243,-.222],[18196,-.233],[18079,-.16],
  [18042,-.177],[17986,-.166],[17949,-.143],[17874,-.126],[17870,-.092],[17890,-.097],[18140,-.094],[18160,-.1],
  [18180,-.092],
  [18779,-.171],[18803,-.16],[18826,-.154],[18863,-.166],[18896,-.16],[18919,-.163],[18943,-.154],[18957,-.143],
  [18985,-.14],[19013,-.131],[19036,-.126],[19050,-.12],[19083,-.126],[19106,-.12],[19129,-.131],[19153,-.12],
  [19176,-.114],[19209,-.097],[19218,-.106],[19237,-.114],[19246,-.126],[19269,-.137],[19293,-.126],[19339,-.134],
  [19363,-.143],[19386,-.12],[19433,-.109],[19456,-.126],[19503,-.122],[19526,-.134],[19573,-.12],[19596,-.129],
  [19619,-.114],[19643,-.12],[19666,-.109],[19689,-.12],[19713,-.097],[19736,-.106],[19759,-.103],[19783,-.111],
  [19806,-.122],[19853,-.103],[19876,-.12],[19909,-.114],[19937,-.12],[19969,-.109],[19992,-.095],[20016,-.103],
  [20039,-.12],[20062,-.111],[20086,-.109],[20109,-.097],[20132,-.114],[20170,-.126],[20202,-.106],[20235,-.109],
  [20272,-.114],[20310,-.111],[20342,-.12],[20366,-.114],[20389,-.12],[20412,-.126],[20450,-.114],[20482,-.114],
  [20506,-.166],[20529,-.12],[20552,-.097],[20576,-.08],[20599,-.109],[20622,-.12],[20646,-.106],[20669,-.114],
  [20692,-.103],[20730,-.1],[20762,-.097],[19769,-.109],
  [18826,-.211],[18989,-.205],[19106,-.188],[19246,-.171],[19293,-.154],[19433,-.188],[19479,-.188],[19563,-.166],
  [19722,-.166],[19750,-.171],[19806,-.166],[19876,-.166],[19922,-.182],[20039,-.182],[20086,-.166],[20156,-.194],
  [20342,-.16],[20529,-.16],[19713,-.16],[20170,-.08],[20566,-.072],[19867,-.066]
]


// --- Helpers ------------------------------------------------------------------------------------
function fromColumns(cols) {
    return cols.flatMap(([k, ...accel]) => accel.map(a => ({ x: k, y: a })))
}

function fromPairs(list) {
    return list.map(([k, a]) => ({ x: k, y: a }))
}

const FONT = '"Liberation Sans", Arial, Helvetica, sans-serif'

// Boxed axes with inward ticks on all four sides, plus the free text
const boxAxes = {
    id: 'boxAxes',
    beforeDraw(chart) {
        chart.ctx.letterSpacing = '1.25px'
    },
    afterDatasetsDraw(chart) {
        const { ctx, chartArea: a, scales: { x, y } } = chart
        ctx.save()
        ctx.strokeStyle = '#1e1e1e'
        ctx.lineWidth = 1.5
        ctx.strokeRect(a.left, a.top, a.right - a.left, a.bottom - a.top)
        ctx.beginPath()
        kTicks.forEach(v => {
            const px = Math.round(x.getPixelForValue(v)) + 0.5
            ctx.moveTo(px, a.bottom); ctx.lineTo(px, a.bottom - 12)
            ctx.moveTo(px, a.top); ctx.lineTo(px, a.top + 12)
        })
        accelTicks.forEach(v => {
            const py = Math.round(y.getPixelForValue(v)) + 0.5
            ctx.moveTo(a.left, py); ctx.lineTo(a.left + 12, py)
            ctx.moveTo(a.right, py); ctx.lineTo(a.right - 12, py)
        })
        ctx.stroke()
        ctx.restore()
    },
    afterDraw(chart) {
        const ctx = chart.ctx
        ctx.save()
        ctx.letterSpacing = '1.25px'
        ctx.fillStyle = '#000'

        // notes
        ctx.font = `29px ${FONT}`
        ctx.textAlign = 'left'
        ctx.textBaseline = 'alphabetic'
        ctx.fillText('Circles are for normals', 794, 198)
        ctx.fillText('Crosses are for misfires', 794, 235)
        ctx.fillText('Blue diamonds are for no clas. required', 794, 272)

        // axis titles
        ctx.font = `bold 29px ${FONT}`
        ctx.textAlign = 'center'
        ctx.fillText('k', 779, 1003)
        ctx.save()
        ctx.translate(37, 470)
        ctx.rotate(-Math.PI / 2)
        ctx.fillText('Accel', 0, 0)
        ctx.restore()

        // exponent of the k axis
        ctx.textAlign = 'left'
        ctx.font = `28px ${FONT}`
        ctx.fillText('x 10', 1374, 1017)
        ctx.font = `20px ${FONT}`
        ctx.fillText('4', 1437, 998)
        ctx.restore()
    }
}


// --- Chart --------------------------------------------------------------------------------------
const canvas = document.getElementById('accelChart')

new Chart(canvas, {
    type: 'scatter',
    data: {
        datasets: [
            {
                label: 'misfires',
                data: [...fromPairs(misfiresEarly), ...fromPairs(misfiresLate)],
                pointStyle: 'crossRot',
                pointRadius: 5.2,
                pointBorderColor: '#ff0000',
                pointBackgroundColor: 'rgba(0,0,0,0)',
                pointBorderWidth: 1.3,
                order: 1
            },
            {
                label: 'no clas. required',
                data: [
                    ...fromColumns(noClassCols),
                    ...fromColumns(noClassColsFill),
                    ...fromPairs(noClassScatter)
                ],
                pointStyle: 'rectRot',
                pointRadius: 8,
                pointBorderColor: '#0000ff',
                pointBackgroundColor: 'rgba(0,0,0,0)',
                pointBorderWidth: 1.8,
                order: 2
            },
            {
                label: 'normals',
                data: [
                    ...fromColumns(normalColsEarly),
                    ...fromColumns(normalColsEarlyFill),
                    ...fromPairs(normalsHigh),
                    ...fromPairs(normalsLow),
                    ...fromColumns(normalColsLate),
                    ...fromColumns(normalColsLateFill),
                    ...fromPairs(normalsBandEdge)
                ],
                pointStyle: 'circle',
                pointRadius: 6.4,
                pointBorderColor: '#00ff00',
                pointBackgroundColor: 'rgba(0,0,0,0)',
                pointBorderWidth: 1.8,
                order: 3
            }
        ]
    },
    options: {
        responsive: false,
        animation: false,
        events: [],
        layout: { padding: { top: 10, right: 11, left: 0, bottom: 0 } },
        plugins: {
            legend: { display: false },
            tooltip: { enabled: false }
        },
        scales: {
            x: {
                type: 'linear',
                min: 14543,
                max: 20777,
                afterFit: scale => {
                    scale.height = 101
                    scale.paddingLeft = 0
                    scale.paddingRight = 0
                },
                afterBuildTicks: scale => { scale.ticks = kTicks.map(v => ({ value: v })) },
                grid: { color: '#3a3a3a', lineWidth: 1.2, drawTicks: false },
                border: { display: false, dash: [1.6, 6.9] },
                ticks: {
                    padding: 10,
                    color: '#000',
                    font: { family: FONT, size: 29 },
                    maxRotation: 0,
                    callback: v => String(v / 10000)
                }
            },
            y: {
                type: 'linear',
                min: -0.38,
                max: 0.662,
                afterFit: scale => {
                    scale.width = 112
                    scale.paddingTop = 0
                    scale.paddingBottom = 0
                },
                afterBuildTicks: scale => { scale.ticks = accelTicks.map(v => ({ value: v })) },
                grid: { color: '#3a3a3a', lineWidth: 1.2, drawTicks: false },
                border: { display: false, dash: [1.6, 6.9] },
                ticks: {
                    padding: 9,
                    color: '#000',
                    font: { family: FONT, size: 29 },
                    callback: v => (v === 0 ? '0' : v.toFixed(1))
                }
            }
        }
    },
    plugins: [boxAxes]
})
</script>
</body>
</html>
